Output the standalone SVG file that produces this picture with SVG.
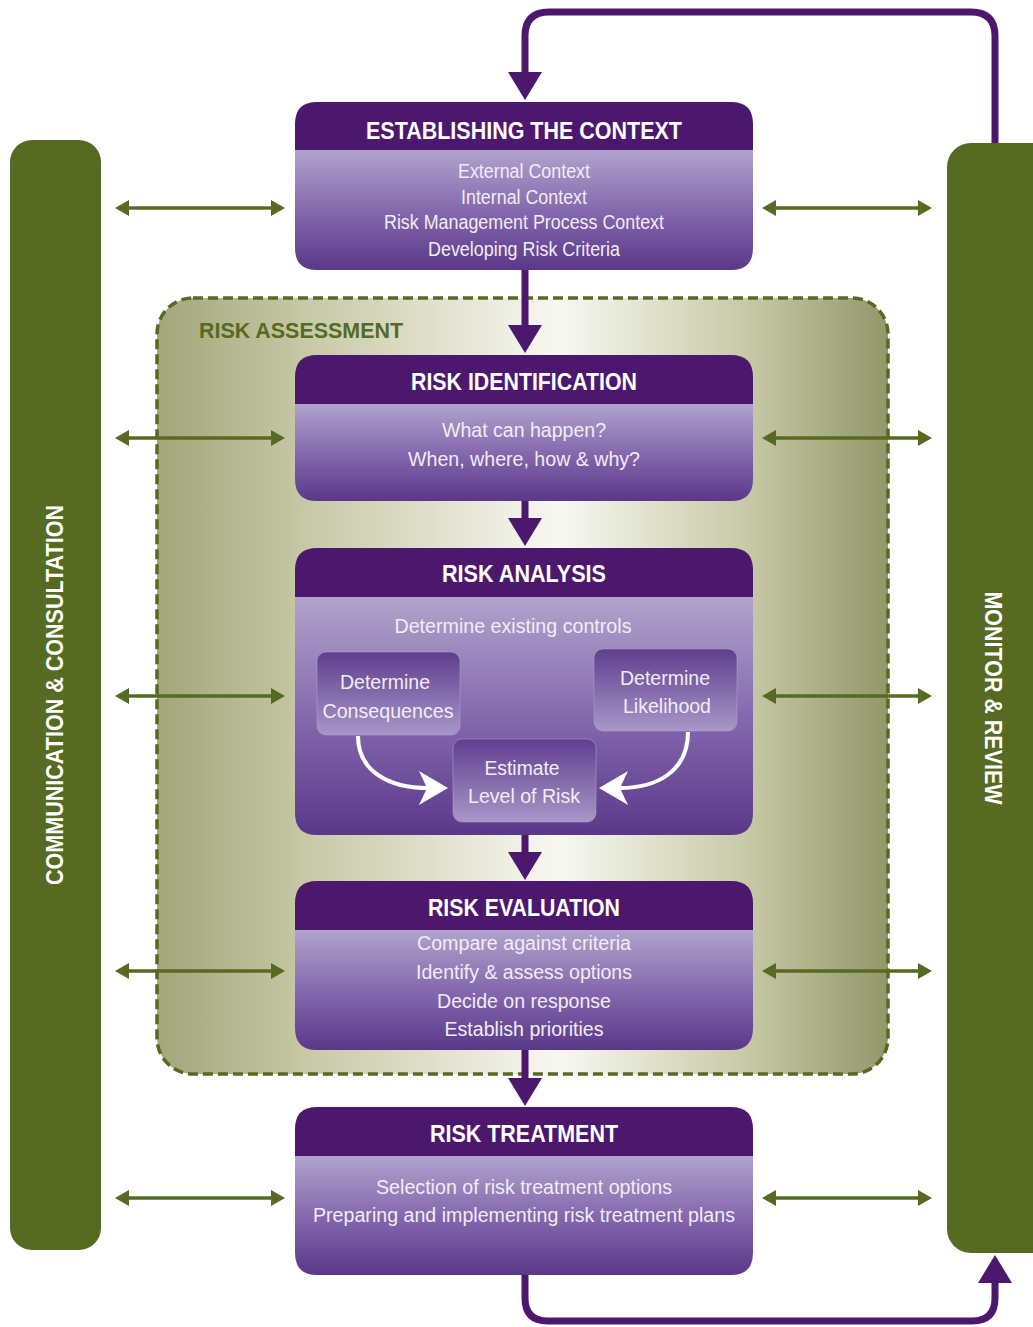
<svg xmlns="http://www.w3.org/2000/svg" width="1033" height="1327" viewBox="0 0 1033 1327">
<style>
  .hdr { fill: #4B186E; }
  .body { fill: url(#bodyGrad); }
  .title { font-family: "Liberation Sans Narrow", "Liberation Sans", Arial, sans-serif; font-weight: bold; font-size: 23px; fill: #FFFFFF; text-anchor: middle; }
  .txt { font-family: "Liberation Sans Narrow", "Liberation Sans", Arial, sans-serif; font-size: 20px; fill: #F1ECF6; text-anchor: middle; }
  .side { font-family: "Liberation Sans Narrow", "Liberation Sans", Arial, sans-serif; font-weight: bold; font-size: 23px; fill: #FFFFFF; text-anchor: middle; }
  .green { stroke: #566A22; stroke-width: 3.5; fill: none; marker-start: url(#gHead); marker-end: url(#gHead); }
  .purple { stroke: #4B186E; stroke-width: 7; fill: none; marker-end: url(#pHead); }
  .white { stroke: #FFFFFF; stroke-width: 4; fill: none; }
  .inner { fill: url(#innerGrad); stroke: #B5A7D0; stroke-width: 1; stroke-opacity: 0.5; }
</style>
<defs>
  <linearGradient id="bodyGrad" x1="0" y1="0" x2="0" y2="1">
    <stop offset="0" stop-color="#B1A3CC"/>
    <stop offset="0.5" stop-color="#8569AE"/>
    <stop offset="1" stop-color="#5A3889"/>
  </linearGradient>
  <linearGradient id="innerGrad" x1="0" y1="0" x2="0" y2="1">
    <stop offset="0" stop-color="#5F3E8E"/>
    <stop offset="1" stop-color="#A897C8"/>
  </linearGradient>
  <linearGradient id="assessGrad" x1="0" y1="0" x2="1" y2="0">
    <stop offset="0" stop-color="#A3A67A"/>
    <stop offset="0.22" stop-color="#C9CBAA"/>
    <stop offset="0.55" stop-color="#F8F8F2"/>
    <stop offset="0.8" stop-color="#C8CBA8"/>
    <stop offset="1" stop-color="#93976A"/>
  </linearGradient>
  <marker id="gHead" markerUnits="userSpaceOnUse" viewBox="0 0 14 16" markerWidth="14" markerHeight="16" refX="0" refY="8" orient="auto-start-reverse">
    <path d="M0,0 L14,8 L0,16 Z" fill="#566A22"/>
  </marker>
  <marker id="pHead" markerUnits="userSpaceOnUse" viewBox="0 0 28 34" markerWidth="28" markerHeight="34" refX="0" refY="17" orient="auto">
    <path d="M0,0 L28,17 L0,34 Z" fill="#4B186E"/>
  </marker>
</defs>

<rect x="0" y="0" width="1033" height="1327" fill="#FFFFFF"/>

<g id="risk-assessment">
  <rect x="157" y="298" width="731" height="776" rx="36" fill="url(#assessGrad)" stroke="#566A22" stroke-width="3.5" stroke-dasharray="10,5"/>
  <text x="301" y="338" font-family="'Liberation Sans Narrow','Liberation Sans',Arial,sans-serif" font-weight="bold" font-size="22" fill="#566A22" text-anchor="middle" textLength="204" lengthAdjust="spacingAndGlyphs">RISK ASSESSMENT</text>
</g>

<g id="communication">
  <rect x="10" y="140" width="91" height="1110" rx="22" fill="#566A22"/>
  <text class="side" transform="translate(63,695) rotate(-90)" x="0" y="0" textLength="380" lengthAdjust="spacingAndGlyphs">COMMUNICATION &amp; CONSULTATION</text>
</g>

<g id="monitor">
  <rect x="947" y="143" width="110" height="1110" rx="24" fill="#566A22"/>
  <text class="side" transform="translate(985,698) rotate(90)" x="0" y="0" textLength="213" lengthAdjust="spacingAndGlyphs">MONITOR &amp; REVIEW</text>
</g>

<g id="connectors">
  <path class="purple" d="M995,143 V36 Q995,12 971,12 H549 Q525,12 525,36 V72"/>
  <path class="purple" d="M525,1275 V1298 Q525,1321 548,1321 H972 Q995,1321 995,1298 V1283"/>
  <path class="purple" d="M525,270 V325"/>
  <path class="purple" d="M525,501 V518"/>
  <path class="purple" d="M525,835 V852"/>
  <path class="purple" d="M525,1050 V1078"/>
  <line class="green" x1="129" y1="208" x2="271" y2="208"/>
  <line class="green" x1="776" y1="208" x2="918" y2="208"/>
  <line class="green" x1="129" y1="438" x2="271" y2="438"/>
  <line class="green" x1="776" y1="438" x2="918" y2="438"/>
  <line class="green" x1="129" y1="696" x2="271" y2="696"/>
  <line class="green" x1="776" y1="696" x2="918" y2="696"/>
  <line class="green" x1="129" y1="971" x2="271" y2="971"/>
  <line class="green" x1="776" y1="971" x2="918" y2="971"/>
  <line class="green" x1="129" y1="1198" x2="271" y2="1198"/>
  <line class="green" x1="776" y1="1198" x2="918" y2="1198"/>
</g>

<g id="establishing-context">
  <path class="body" d="M295,150 H753 V248 Q753,270 731,270 H317 Q295,270 295,248 Z"/>
  <path class="hdr" d="M295,150 V124 Q295,102 317,102 H731 Q753,102 753,124 V150 Z"/>
  <text class="title" x="524" y="139" textLength="316" lengthAdjust="spacingAndGlyphs">ESTABLISHING THE CONTEXT</text>
  <text class="txt" x="524" y="178" textLength="132" lengthAdjust="spacingAndGlyphs">External Context</text>
  <text class="txt" x="524" y="204" textLength="126" lengthAdjust="spacingAndGlyphs">Internal Context</text>
  <text class="txt" x="524" y="229" textLength="280" lengthAdjust="spacingAndGlyphs">Risk Management Process Context</text>
  <text class="txt" x="524" y="256" textLength="192" lengthAdjust="spacingAndGlyphs">Developing Risk Criteria</text>
</g>

<g id="risk-identification">
  <path class="body" d="M295,404 H753 V479 Q753,501 731,501 H317 Q295,501 295,479 Z"/>
  <path class="hdr" d="M295,404 V377 Q295,355 317,355 H731 Q753,355 753,377 V404 Z"/>
  <text class="title" x="524" y="390" textLength="226" lengthAdjust="spacingAndGlyphs">RISK IDENTIFICATION</text>
  <text class="txt" x="524" y="437" textLength="164" lengthAdjust="spacingAndGlyphs">What can happen?</text>
  <text class="txt" x="524" y="466" textLength="232" lengthAdjust="spacingAndGlyphs">When, where, how &amp; why?</text>
</g>

<g id="risk-analysis">
  <path class="body" d="M295,597 H753 V813 Q753,835 731,835 H317 Q295,835 295,813 Z"/>
  <path class="hdr" d="M295,597 V570 Q295,548 317,548 H731 Q753,548 753,570 V597 Z"/>
  <text class="title" x="524" y="582" textLength="164" lengthAdjust="spacingAndGlyphs">RISK ANALYSIS</text>
  <text class="txt" x="513" y="633" textLength="237" lengthAdjust="spacingAndGlyphs">Determine existing controls</text>
</g>

<g id="determine-consequences">
  <rect class="inner" x="317" y="652" width="143" height="83" rx="9"/>
  <text class="txt" x="385" y="689" textLength="90" lengthAdjust="spacingAndGlyphs">Determine</text>
  <text class="txt" x="388" y="718" textLength="131" lengthAdjust="spacingAndGlyphs">Consequences</text>
</g>

<g id="determine-likelihood">
  <rect class="inner" x="594" y="649" width="143" height="82" rx="9"/>
  <text class="txt" x="665" y="685" textLength="90" lengthAdjust="spacingAndGlyphs">Determine</text>
  <text class="txt" x="667" y="713" textLength="88" lengthAdjust="spacingAndGlyphs">Likelihood</text>
</g>

<g id="estimate-level">
  <rect class="inner" x="453" y="739" width="143" height="83" rx="9"/>
  <text class="txt" x="522" y="775" textLength="75" lengthAdjust="spacingAndGlyphs">Estimate</text>
  <text class="txt" x="524" y="803" textLength="112" lengthAdjust="spacingAndGlyphs">Level of Risk</text>
</g>

<g id="analysis-connectors">
  <path class="white" d="M358,736 C358,772 390,788 428,788"/>
  <path d="M448,788 L419,771 L427,788 L419,805 Z" fill="#FFFFFF"/>
  <path class="white" d="M688,732 C688,772 656,788 620,788"/>
  <path d="M599,788 L628,771 L620,788 L628,805 Z" fill="#FFFFFF"/>
</g>

<g id="risk-evaluation">
  <path class="body" d="M295,930 H753 V1028 Q753,1050 731,1050 H317 Q295,1050 295,1028 Z"/>
  <path class="hdr" d="M295,930 V903 Q295,881 317,881 H731 Q753,881 753,903 V930 Z"/>
  <text class="title" x="524" y="916" textLength="192" lengthAdjust="spacingAndGlyphs">RISK EVALUATION</text>
  <text class="txt" x="524" y="950" textLength="214" lengthAdjust="spacingAndGlyphs">Compare against criteria</text>
  <text class="txt" x="524" y="979" textLength="216" lengthAdjust="spacingAndGlyphs">Identify &amp; assess options</text>
  <text class="txt" x="524" y="1008" textLength="174" lengthAdjust="spacingAndGlyphs">Decide on response</text>
  <text class="txt" x="524" y="1036" textLength="159" lengthAdjust="spacingAndGlyphs">Establish priorities</text>
</g>

<g id="risk-treatment">
  <path class="body" d="M295,1156 H753 V1253 Q753,1275 731,1275 H317 Q295,1275 295,1253 Z"/>
  <path class="hdr" d="M295,1156 V1129 Q295,1107 317,1107 H731 Q753,1107 753,1129 V1156 Z"/>
  <text class="title" x="524" y="1142" textLength="188" lengthAdjust="spacingAndGlyphs">RISK TREATMENT</text>
  <text class="txt" x="524" y="1194" textLength="296" lengthAdjust="spacingAndGlyphs">Selection of risk treatment options</text>
  <text class="txt" x="524" y="1222" textLength="422" lengthAdjust="spacingAndGlyphs">Preparing and implementing risk treatment plans</text>
</g>
</svg>
